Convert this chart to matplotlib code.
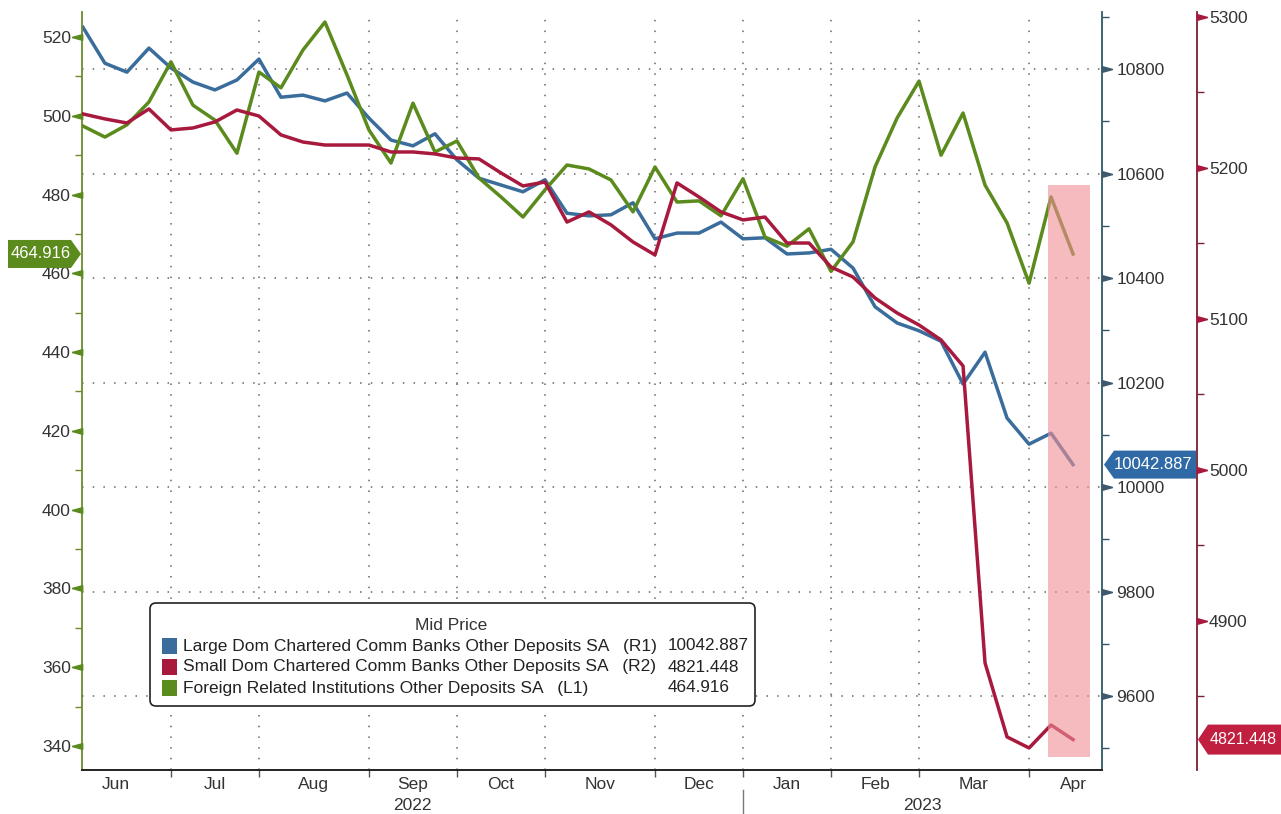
import numpy as np
import pandas as pd
import matplotlib
matplotlib.use("Agg")
import matplotlib.pyplot as plt
import matplotlib.dates as mdates
import matplotlib.transforms as mtransforms
from matplotlib.patches import Polygon, FancyBboxPatch, Rectangle
from matplotlib.ticker import MultipleLocator, NullFormatter, FixedLocator, FixedFormatter

plt.rcParams["font.family"] = ["Liberation Sans", "DejaVu Sans"]

# weekly observations (Wednesdays), Jun 2022 - Apr 2023
dates = pd.date_range("2022-06-01", "2023-04-12", freq="7D")

# R1 - Large Dom Chartered Comm Banks Other Deposits SA
large_dom = [10880, 10811, 10794, 10840, 10802, 10775, 10760, 10779, 10819, 10746,
             10750, 10739, 10754, 10706, 10664, 10653, 10676, 10626, 10591, 10578,
             10565, 10588, 10524, 10519, 10521, 10544, 10475, 10486, 10486, 10507,
             10475, 10477, 10446, 10448, 10455, 10419, 10345, 10314, 10299, 10279,
             10197, 10258, 10132, 10082, 10103, 10042.887]

# R2 - Small Dom Chartered Comm Banks Other Deposits SA
small_dom = [5235.8, 5232.5, 5229.8, 5239.1, 5225.2, 5226.5, 5230.5, 5238.4, 5234.4, 5221.9,
             5217.2, 5215.2, 5215.2, 5215.2, 5210.6, 5210.6, 5209.3, 5206.6, 5206.0, 5196.7,
             5188.1, 5190.7, 5164.2, 5170.9, 5162.3, 5151.0, 5142.4, 5190.1, 5180.8, 5170.9,
             5165.6, 5167.5, 5150.3, 5150.3, 5134.4, 5127.8, 5113.9, 5104.0, 5096.0, 5086.1,
             5068.9, 4872.2, 4823.2, 4815.9, 4831.1, 4821.448]

# L1 - Foreign Related Institutions Other Deposits SA
foreign = [497.4, 494.6, 497.7, 503.5, 513.7, 502.7, 498.9, 490.5, 511.1, 507.1,
           516.7, 523.8, 510.4, 496.4, 488.0, 503.2, 490.8, 493.6, 484.2, 479.4,
           474.3, 481.2, 487.5, 486.5, 483.7, 475.6, 487.0, 478.1, 478.4, 474.6,
           484.0, 469.2, 466.9, 471.3, 460.5, 468.0, 487.0, 499.4, 508.8, 490.0,
           500.7, 482.4, 472.8, 457.5, 479.4, 464.916]

names = ["Large Dom Chartered Comm Banks Other Deposits SA   (R1)",
         "Small Dom Chartered Comm Banks Other Deposits SA   (R2)",
         "Foreign Related Institutions Other Deposits SA   (L1)"]
last_vals = ["10042.887", "4821.448", "464.916"]

# Bloomberg-style month separators (last observation week before each month)
month_seps = pd.to_datetime(["2022-05-25", "2022-06-29", "2022-07-27", "2022-08-31",
                             "2022-09-28", "2022-10-26", "2022-11-30", "2022-12-28",
                             "2023-01-25", "2023-02-22", "2023-03-29", "2023-04-26"])
month_names = ["Jun", "Jul", "Aug", "Sep", "Oct", "Nov", "Dec", "Jan", "Feb", "Mar", "Apr"]
year_sep = pd.Timestamp("2022-12-28")

shade_start, shade_end = pd.Timestamp("2023-04-04"), pd.Timestamp("2023-04-17 10:00")

BLUE = "#3a6d9c"
RED = "#a8193e"
GREEN = "#5b8a1d"
GRID = "#666666"
TXT = "#333333"

W, H = 1281, 814
fig = plt.figure(figsize=(W / 100, H / 100), dpi=100, facecolor="white")
ax1 = fig.add_axes([82 / W, 44 / H, 1020 / W, 758 / H])
ax2 = ax1.twinx()
ax3 = ax1.twinx()
ax2.set_zorder(1)
ax1.set_zorder(2)
ax3.set_zorder(3)
ax1.patch.set_visible(False)

ax1.set_xlim(pd.Timestamp("2022-05-31 17:00"), pd.Timestamp("2023-04-21 05:00"))
ax1.set_ylim(333.9, 526.35)
ax2.set_ylim(9458.4, 10909.1)
ax3.set_ylim(4801.3, 5303.3)

# series
ax2.plot(dates, large_dom, color=BLUE, lw=2.5, solid_joinstyle="round")
ax1.plot(dates, foreign, color=GREEN, lw=2.5, solid_joinstyle="round")
ax3.plot(dates, small_dom, color=RED, lw=2.5, solid_joinstyle="round")
ax3.axvspan(shade_start, shade_end, ymin=0.017, ymax=0.772, color="#f08f95",
            alpha=0.6, lw=0, zorder=5)

# grid (dotted) on the bottom axes
dots = (0, (1, 6))
for d in month_seps[1:-1]:
    ax2.axvline(d, color=GRID, lw=1.1, ls=dots, zorder=0)
ax2.yaxis.set_major_locator(MultipleLocator(200))
ax2.grid(axis="y", color=GRID, lw=1.1, ls=dots)

# spines
for a in (ax1, ax2, ax3):
    a.spines["top"].set_visible(False)
ax1.spines["right"].set_visible(False)
ax1.spines["left"].set_color("#6a8c2c")
ax1.spines["left"].set_linewidth(1.3)
ax1.spines["bottom"].set_color("#222222")
ax1.spines["bottom"].set_linewidth(1.4)
for a in (ax2, ax3):
    a.spines["left"].set_visible(False)
    a.spines["bottom"].set_visible(False)
ax2.spines["right"].set_color("#2e5a66")
ax2.spines["right"].set_linewidth(1.3)
ax3.spines["right"].set_position(("outward", 95 * 0.72))
ax3.spines["right"].set_color("#7a2034")
ax3.spines["right"].set_linewidth(1.3)

# y ticks
ax1.yaxis.set_major_locator(MultipleLocator(20))
ax1.yaxis.set_minor_locator(MultipleLocator(10))
ax2.yaxis.set_minor_locator(MultipleLocator(100))
ax3.yaxis.set_major_locator(MultipleLocator(100))
ax3.yaxis.set_minor_locator(MultipleLocator(50))
ax1.tick_params(axis="y", which="major", length=0, pad=8, labelsize=12.5, labelcolor=TXT)
ax1.tick_params(axis="y", which="minor", length=5, width=1, color="#6a8c2c", direction="out")
ax2.tick_params(axis="y", which="major", length=0, pad=10.5, labelsize=12.5, labelcolor=TXT)
ax2.tick_params(axis="y", which="minor", length=5, width=1, color="#2e5a66", direction="out")
ax3.tick_params(axis="y", which="major", length=0, pad=8.5, labelsize=12.5, labelcolor=TXT)
ax3.tick_params(axis="y", which="minor", length=5, width=1, color="#7a2034", direction="out")

# triangular tick markers
tri_l = [(-1, 0), (1, 0.55), (1, -0.55), (-1, 0)]
tri_r = [(1, 0), (-1, 0.55), (-1, -0.55), (1, 0)]


def tick_marks(ax, xpos, dx, marker, color):
    lo, hi = ax.get_ylim()
    vals = [v for v in ax.yaxis.get_majorticklocs() if lo <= v <= hi]
    tr = mtransforms.blended_transform_factory(ax.transAxes, ax.transData)
    tr = mtransforms.offset_copy(tr, fig=fig, x=dx, y=0, units="dots")
    ax.plot([xpos] * len(vals), vals, ls="none", marker=marker, ms=7.5,
            color=color, transform=tr, clip_on=False, zorder=6)


tick_marks(ax1, 0, -5, tri_l, GREEN)
tick_marks(ax2, 1, 5, tri_r, "#3d5a6e")
tick_marks(ax3, 1, 100, tri_r, "#a8193e")

# x axis: month separators + centred month names
sep_num = mdates.date2num(month_seps)
label_pos = (sep_num[:-1] + sep_num[1:]) / 2
ax1.xaxis.set_major_locator(FixedLocator(sep_num[1:-1]))
ax1.xaxis.set_major_formatter(NullFormatter())
ax1.xaxis.set_minor_locator(FixedLocator(label_pos))
ax1.xaxis.set_minor_formatter(FixedFormatter(month_names))
ax1.tick_params(axis="x", which="major", length=5, width=1, color="#555555", direction="out")
ax1.tick_params(axis="x", which="minor", length=0, pad=5, labelsize=12.5, labelcolor=TXT)

xb = mtransforms.blended_transform_factory(ax1.transData, ax1.transAxes)
ysep = mdates.date2num(year_sep)
xlo, xhi = ax1.get_xlim()
ax1.plot([ysep, ysep], [-0.026, -0.06], color="#777777", lw=1, transform=xb, clip_on=False)
ax1.text((xlo + ysep) / 2, -0.047, "2022", transform=xb, ha="center", va="center",
         fontsize=12.5, color=TXT)
ax1.text((ysep + xhi) / 2, -0.047, "2023", transform=xb, ha="center", va="center",
         fontsize=12.5, color=TXT)

# value tags at the axes
ident = mtransforms.IdentityTransform()


def tag(ypix, x_tip, x_body0, x_body1, half, color, text, point_left, tx, fs):
    if point_left:
        pts = [(x_tip, ypix), (x_body0, ypix + half), (x_body1, ypix + half),
               (x_body1, ypix - half), (x_body0, ypix - half)]
    else:
        pts = [(x_tip, ypix), (x_body1, ypix + half), (x_body0, ypix + half),
               (x_body0, ypix - half), (x_body1, ypix - half)]
    fig.patches.append(Polygon(pts, closed=True, facecolor=color, edgecolor="none",
                               transform=ident, zorder=12))
    fig.text(tx, ypix, text, transform=ident, ha="center", va="center",
             color="white", fontsize=fs, zorder=13)


yg = ax1.transData.transform((0, foreign[-1]))[1]
yb = ax2.transData.transform((0, large_dom[-1]))[1]
yr = ax3.transData.transform((0, small_dom[-1]))[1]
tag(yg, 81, 8, 71, 14, GREEN, last_vals[2], False, 41, 12)
tag(yb, 1104, 1114, 1196, 14, "#2f6aa6", last_vals[0], True, 1153, 12)
tag(yr, 1198, 1208, 1290, 15, "#c01f40", last_vals[1], True, 1243, 11.5)

# legend box drawn in pixel coordinates
lx0, ly_top, lw_, lh = 150, 603, 605, 103
fig.patches.append(FancyBboxPatch((lx0, H - ly_top - lh), lw_, lh,
                                  boxstyle="round,pad=0,rounding_size=6",
                                  facecolor="white", edgecolor="#222222", lw=1.2,
                                  transform=ident, zorder=10))
fig.text(451, H - 625, "Mid Price", transform=ident, ha="center", va="center",
         fontsize=12.5, color=TXT, zorder=11)
for i, (nm, val, col) in enumerate(zip(names, last_vals, [BLUE, RED, GREEN])):
    yc = H - (646 + 21 * i)
    fig.patches.append(Rectangle((162, yc - 8), 15, 16, facecolor=col, edgecolor="none",
                                 transform=ident, zorder=11))
    fig.text(183, yc, nm, transform=ident, ha="left", va="center", fontsize=12.5,
             color="#222222", zorder=11)
    fig.text(668, yc, val, transform=ident, ha="left", va="center", fontsize=12.3,
             color="#222222", zorder=11)

fig.savefig("out.png", dpi=100, facecolor="white")
